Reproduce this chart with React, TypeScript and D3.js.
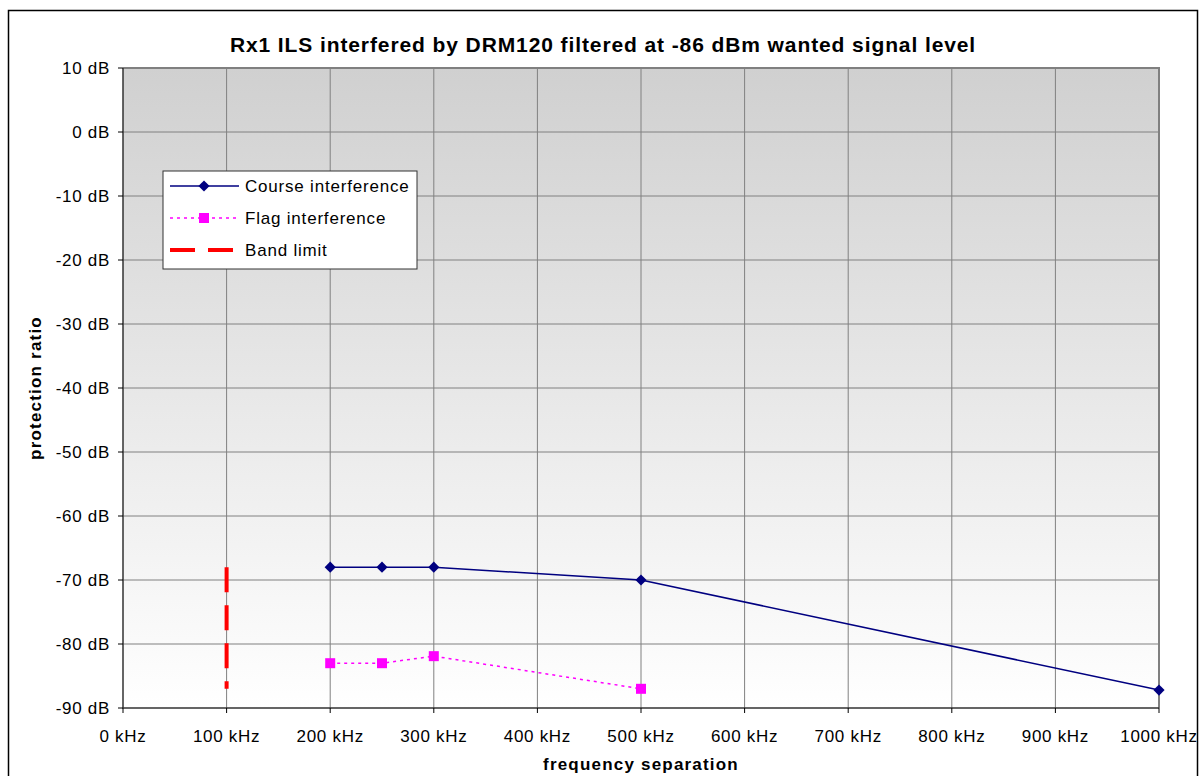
import { useEffect, useRef } from "react";
import * as d3 from "d3";

const courseFreq = [200, 250, 300, 500, 1000];
const courseDb = [-68, -68, -68, -70, -87.2];
const flagFreq = [200, 250, 300, 500];
const flagDb = [-83, -83, -81.9, -87];
const bandFreq = [100, 100];
const bandDb = [-68, -87];
const xTicks = [0, 100, 200, 300, 400, 500, 600, 700, 800, 900, 1000];
const yTicks = [10, 0, -10, -20, -30, -40, -50, -60, -70, -80, -90];

export default function App() {
  const svgRef = useRef(null);

  useEffect(() => {
    if (!svgRef.current) return;
    const width = 1200;
    const height = 776;
    const left = 123;
    const right = 1159;
    const top = 68;
    const bottom = 708;
    const font = "'Liberation Sans', Arial, sans-serif";

    const svg = d3.select(svgRef.current);
    svg.selectAll("*").remove();
    svg.attr("width", width).attr("height", height).attr("viewBox", `0 0 ${width} ${height}`);

    const x = d3.scaleLinear().domain([0, 1000]).range([left, right]);
    const y = d3.scaleLinear().domain([-90, 10]).range([bottom, top]);

    const defs = svg.append("defs");
    const grad = defs
      .append("linearGradient")
      .attr("id", "bg")
      .attr("x1", 0)
      .attr("y1", 0)
      .attr("x2", 0)
      .attr("y2", 1);
    grad.append("stop").attr("offset", "0%").attr("stop-color", "#d0d0d0");
    grad.append("stop").attr("offset", "100%").attr("stop-color", "#ffffff");

    svg.append("rect").attr("width", width).attr("height", height).attr("fill", "#fff");

    // outer border
    svg
      .append("rect")
      .attr("x", 8.5)
      .attr("y", 10.5)
      .attr("width", 1189)
      .attr("height", 790)
      .attr("fill", "none")
      .attr("stroke", "#000")
      .attr("stroke-width", 1.5);

    svg
      .append("rect")
      .attr("x", left)
      .attr("y", top)
      .attr("width", right - left)
      .attr("height", bottom - top)
      .attr("fill", "url(#bg)");

    // grid
    xTicks.slice(1).forEach((t) => {
      svg
        .append("line")
        .attr("x1", x(t))
        .attr("x2", x(t))
        .attr("y1", top)
        .attr("y2", bottom)
        .attr("stroke", "#808080")
        .attr("stroke-width", 1);
    });
    yTicks.slice(0, -1).forEach((t) => {
      svg
        .append("line")
        .attr("x1", left)
        .attr("x2", right)
        .attr("y1", y(t))
        .attr("y2", y(t))
        .attr("stroke", "#808080")
        .attr("stroke-width", 1);
    });

    // plot border (top/right gray)
    svg
      .append("path")
      .attr("d", `M${left},${top}H${right}V${bottom}`)
      .attr("fill", "none")
      .attr("stroke", "#808080")
      .attr("stroke-width", 2);

    // axes
    svg
      .append("path")
      .attr("d", `M${left},${top}V${bottom}H${right}`)
      .attr("fill", "none")
      .attr("stroke", "#333")
      .attr("stroke-width", 1.5);

    yTicks.forEach((t) => {
      svg
        .append("line")
        .attr("x1", left - 5)
        .attr("x2", left)
        .attr("y1", y(t))
        .attr("y2", y(t))
        .attr("stroke", "#000");
      svg
        .append("text")
        .attr("x", left - 13)
        .attr("y", y(t))
        .attr("dy", "0.35em")
        .attr("text-anchor", "end")
        .attr("font-family", font)
        .attr("font-size", 17)
        .attr("letter-spacing", 0.7)
        .attr("fill", "#000")
        .text(`${t} dB`);
    });

    xTicks.forEach((t) => {
      svg
        .append("line")
        .attr("x1", x(t))
        .attr("x2", x(t))
        .attr("y1", bottom)
        .attr("y2", bottom + 5)
        .attr("stroke", "#000");
      svg
        .append("text")
        .attr("x", x(t))
        .attr("y", 742)
        .attr("text-anchor", "middle")
        .attr("font-family", font)
        .attr("font-size", 17)
        .attr("letter-spacing", 0.7)
        .attr("fill", "#000")
        .text(`${t} kHz`);
    });

    // series
    const line = d3
      .line<[number, number]>()
      .x((d) => x(d[0]))
      .y((d) => y(d[1]));

    const band: [number, number][] = bandFreq.map((f, i) => [f, bandDb[i]]);
    svg
      .append("path")
      .attr("d", line(band))
      .attr("fill", "none")
      .attr("stroke", "#ff0000")
      .attr("stroke-width", 4)
      .attr("stroke-dasharray", "25,13");

    const flag: [number, number][] = flagFreq.map((f, i) => [f, flagDb[i]]);
    svg
      .append("path")
      .attr("d", line(flag))
      .attr("fill", "none")
      .attr("stroke", "#ff00ff")
      .attr("stroke-width", 1.5)
      .attr("stroke-dasharray", "3,4");
    flag.forEach((d) => {
      svg
        .append("rect")
        .attr("x", x(d[0]) - 5)
        .attr("y", y(d[1]) - 5)
        .attr("width", 10)
        .attr("height", 10)
        .attr("fill", "#ff00ff");
    });

    const course: [number, number][] = courseFreq.map((f, i) => [f, courseDb[i]]);
    svg
      .append("path")
      .attr("d", line(course))
      .attr("fill", "none")
      .attr("stroke", "#000080")
      .attr("stroke-width", 1.5);
    const diamond = d3.symbol().type(d3.symbolDiamond2).size(80);
    course.forEach((d) => {
      svg
        .append("path")
        .attr("d", diamond())
        .attr("transform", `translate(${x(d[0])},${y(d[1])})`)
        .attr("fill", "#000080");
    });

    // titles
    svg
      .append("text")
      .attr("x", 603)
      .attr("y", 52)
      .attr("text-anchor", "middle")
      .attr("font-family", font)
      .attr("font-weight", "bold")
      .attr("font-size", 21)
      .attr("letter-spacing", 0.9)
      .text("Rx1 ILS interfered by DRM120 filtered at -86 dBm wanted signal level");

    svg
      .append("text")
      .attr("x", (left + right) / 2)
      .attr("y", 770)
      .attr("text-anchor", "middle")
      .attr("font-family", font)
      .attr("font-weight", "bold")
      .attr("font-size", 17)
      .attr("letter-spacing", 1.2)
      .text("frequency separation");

    svg
      .append("text")
      .attr("transform", `translate(41,${(top + bottom) / 2}) rotate(-90)`)
      .attr("text-anchor", "middle")
      .attr("font-family", font)
      .attr("font-weight", "bold")
      .attr("font-size", 17)
      .attr("letter-spacing", 1.2)
      .text("protection ratio");

    // legend
    const lg = svg.append("g").attr("transform", "translate(163,171)");
    lg.append("rect")
      .attr("width", 254)
      .attr("height", 98)
      .attr("fill", "#fff")
      .attr("stroke", "#333")
      .attr("stroke-width", 1);
    const items = [
      { label: "Course interference", color: "#000080", dash: null, w: 1.5 },
      { label: "Flag interference", color: "#ff00ff", dash: "3,4", w: 1.5 },
      { label: "Band limit", color: "#ff0000", dash: "25,13", w: 4 },
    ];
    items.forEach((it, i) => {
      const cy = 15 + i * 32;
      lg.append("line")
        .attr("x1", 7)
        .attr("x2", 76)
        .attr("y1", cy)
        .attr("y2", cy)
        .attr("stroke", it.color)
        .attr("stroke-width", it.w)
        .attr("stroke-dasharray", it.dash);
      if (i === 0) {
        lg.append("path")
          .attr("d", diamond())
          .attr("transform", `translate(41,${cy})`)
          .attr("fill", it.color);
      } else if (i === 1) {
        lg.append("rect")
          .attr("x", 36)
          .attr("y", cy - 5)
          .attr("width", 10)
          .attr("height", 10)
          .attr("fill", it.color);
      }
      lg.append("text")
        .attr("x", 82)
        .attr("y", cy)
        .attr("dy", "0.35em")
        .attr("font-family", font)
        .attr("font-size", 17)
        .attr("letter-spacing", 0.8)
        .text(it.label);
    });
  }, []);

  return (
    <svg
      ref={svgRef}
      style={{ position: "absolute", left: 0, top: 0, display: "block" }}
    />
  );
}
